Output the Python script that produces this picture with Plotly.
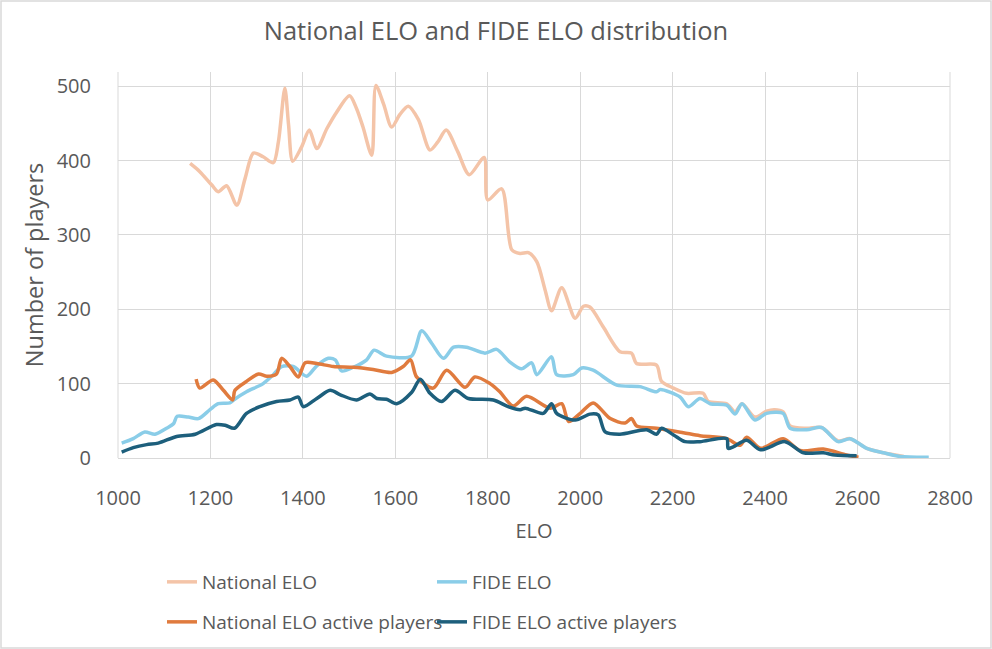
import plotly.graph_objects as go

# ---- data ----
national_x = [1156, 1177, 1203, 1217, 1235, 1257, 1275, 1293, 1314, 1336, 1347, 1361, 1369, 1378,
              1397, 1414, 1430, 1452, 1473, 1501, 1516, 1530, 1549, 1558, 1575, 1592, 1610, 1628,
              1650, 1675, 1692, 1710, 1735, 1760, 1792, 1800, 1830, 1852, 1870, 1888, 1906, 1924,
              1938, 1960, 1989, 2007, 2021, 2050, 2086, 2111, 2122, 2165, 2176, 2202, 2230, 2266,
              2277, 2317, 2335, 2350, 2378, 2403, 2420, 2439, 2454, 2490, 2522, 2558, 2584, 2620,
              2656, 2700]
national_y = [396, 385, 367, 358, 366, 340, 376, 410, 405, 397, 425, 497, 448, 399,
              418, 441, 416, 443, 465, 487, 470, 445, 407, 501, 475, 445, 462, 473,
              455, 414, 425, 441, 412, 381, 404, 347, 362, 280, 275, 276, 264, 226,
              198, 229, 188, 204, 203, 176, 143, 141, 127, 125, 103, 94, 87, 87,
              76, 73, 62, 73, 55, 63, 65, 62, 43, 40, 41, 23, 26, 13,
              7, 2]

fide_x = [1008, 1033, 1058, 1080, 1105, 1120, 1128, 1152, 1174, 1199, 1217, 1242, 1250, 1278,
          1314, 1336, 1354, 1379, 1408, 1430, 1455, 1470, 1484, 1509, 1538, 1554, 1581, 1635,
          1657, 1679, 1704, 1726, 1754, 1794, 1819, 1848, 1873, 1895, 1906, 1938, 1949, 1985,
          2003, 2028, 2079, 2129, 2165, 2173, 2216, 2234, 2259, 2281, 2317, 2335, 2350, 2378,
          2403, 2439, 2454, 2490, 2522, 2558, 2584, 2620, 2656, 2692, 2754]
fide_y = [20, 26, 35, 32, 40, 46, 56, 55, 53, 65, 73, 74, 78, 89,
          100, 112, 123, 123, 110, 124, 134, 132, 117, 122, 132, 145, 137, 137,
          171, 154, 134, 149, 149, 141, 146, 129, 120, 128, 112, 136, 112, 112,
          121, 118, 98, 96, 89, 92, 82, 69, 80, 73, 71, 59, 73, 51,
          60, 60, 40, 38, 41, 22, 26, 13, 7, 2, 1]

nat_active_x = [1169, 1177, 1206, 1228, 1248, 1253, 1278, 1304, 1322, 1343, 1354, 1372, 1390, 1405,
                1430, 1466, 1509, 1552, 1592, 1617, 1633, 1646, 1682, 1711, 1751, 1772, 1805, 1826,
                1855, 1884, 1935, 1960, 1975, 2000, 2028, 2065, 2097, 2111, 2122, 2165, 2223, 2259,
                2317, 2346, 2360, 2390, 2439, 2476, 2526, 2576, 2602]
nat_active_y = [106, 94, 105, 91, 78, 91, 103, 113, 110, 113, 134, 123, 109, 128,
                127, 123, 122, 119, 115, 123, 132, 109, 94, 118, 95, 109, 100, 89,
                70, 83, 67, 73, 49, 60, 74, 53, 47, 53, 43, 40, 34, 30,
                26, 17, 28, 13, 26, 10, 12, 4, 1]

fide_active_x = [1008, 1033, 1062, 1087, 1127, 1167, 1213, 1232, 1252, 1278, 1307, 1343, 1372, 1390,
                 1401, 1430, 1459, 1481, 1516, 1545, 1560, 1581, 1603, 1635, 1654, 1675, 1700, 1729,
                 1758, 1812, 1844, 1870, 1881, 1920, 1938, 1949, 1989, 2021, 2039, 2054, 2086, 2144,
                 2165, 2176, 2202, 2227, 2259, 2317, 2320, 2331, 2360, 2390, 2443, 2483, 2526, 2551,
                 2598]
fide_active_y = [8, 14, 18, 20, 29, 32, 45, 44, 40, 60, 69, 76, 78, 82,
                 69, 80, 91, 85, 78, 86, 80, 79, 73, 88, 106, 87, 76, 91,
                 80, 78, 69, 65, 67, 60, 73, 60, 51, 59, 58, 35, 32, 38,
                 32, 40, 31, 22, 22, 26, 13, 15, 24, 11, 22, 7, 7, 4,
                 3]

x_ticks = [1000, 1200, 1400, 1600, 1800, 2000, 2200, 2400, 2600, 2800]
y_ticks = [0, 100, 200, 300, 400, 500]

series = [
    ("National ELO", national_x, national_y, "#F4C4A8", "legend"),
    ("FIDE ELO", fide_x, fide_y, "#8ACDE8", "legend"),
    ("National ELO active players", nat_active_x, nat_active_y, "#E07B3E", "legend2"),
    ("FIDE ELO active players", fide_active_x, fide_active_y, "#1D5F7C", "legend2"),
]

FONT = "Open Sans"
GREY = "#595959"

fig = go.Figure()
for name, xs, ys, col, leg in series:
    fig.add_trace(go.Scatter(
        x=xs, y=ys, name=name, mode="lines",
        line=dict(color=col, width=3.5, shape="spline", smoothing=0.8),
        legend=leg,
    ))

W, H = 992, 649
ml, mr, mt, mb = 118, 42, 72, 191
pw, ph = W - ml - mr, H - mt - mb

legend_common = dict(
    orientation="h", xanchor="left", yanchor="middle",
    xref="container", yref="container",
    font=dict(family=FONT, size=19, color=GREY),
    entrywidth=225, entrywidthmode="pixels",
    bgcolor="rgba(0,0,0,0)", itemwidth=30, tracegroupgap=0,
)

fig.update_layout(
    width=W, height=H,
    margin=dict(l=ml, r=mr, t=mt, b=mb),
    paper_bgcolor="white", plot_bgcolor="white",
    font=dict(family=FONT, color=GREY),
    title=dict(text="National ELO and FIDE ELO distribution",
               x=0.5, xanchor="center", xref="container",
               y=1 - 31 / H, yanchor="middle",
               font=dict(family=FONT, size=25.5, color=GREY)),
    xaxis=dict(range=[1000, 2800], tickvals=x_ticks, showgrid=True,
               gridcolor="#D9D9D9", gridwidth=1, zeroline=False,
               showline=True, linecolor="#D9D9D9", linewidth=1,
               ticks="outside", ticklen=22, tickcolor="rgba(0,0,0,0)",
               tickfont=dict(family=FONT, size=20, color=GREY),
               title=dict(text="ELO", font=dict(family=FONT, size=20, color=GREY), standoff=13)),
    yaxis=dict(range=[0, 519], tickvals=y_ticks, showgrid=True,
               gridcolor="#D9D9D9", gridwidth=1, zeroline=False,
               showline=False,
               ticks="outside", ticklen=22, tickcolor="rgba(0,0,0,0)",
               tickfont=dict(family=FONT, size=20, color=GREY),
               title=dict(text="Number of players", font=dict(family=FONT, size=23.5, color=GREY), standoff=6)),
    legend=dict(x=162 / W, y=1 - 582 / H, **legend_common),
    legend2=dict(x=162 / W, y=1 - 622 / H, **legend_common),
    showlegend=True,
)

# left / right edges of plot area (Excel shows gridline frame)
fig.add_shape(type="line", xref="paper", yref="paper", x0=0, x1=0, y0=0, y1=1,
              line=dict(color="#D9D9D9", width=1), layer="below")
fig.add_shape(type="line", xref="paper", yref="paper", x0=1, x1=1, y0=0, y1=1,
              line=dict(color="#D9D9D9", width=1), layer="below")

# chart border around the whole figure
fig.add_shape(type="rect", xref="paper", yref="paper",
              x0=-(ml - 1) / pw, x1=1 + (mr - 1) / pw,
              y0=-(mb - 1) / ph, y1=1 + (mt - 1) / ph,
              line=dict(color="#D9D9D9", width=1.5), fillcolor="rgba(0,0,0,0)")

fig.write_html("out.html", config={"displayModeBar": False},
               post_script="document.body.style.margin='0px';")
